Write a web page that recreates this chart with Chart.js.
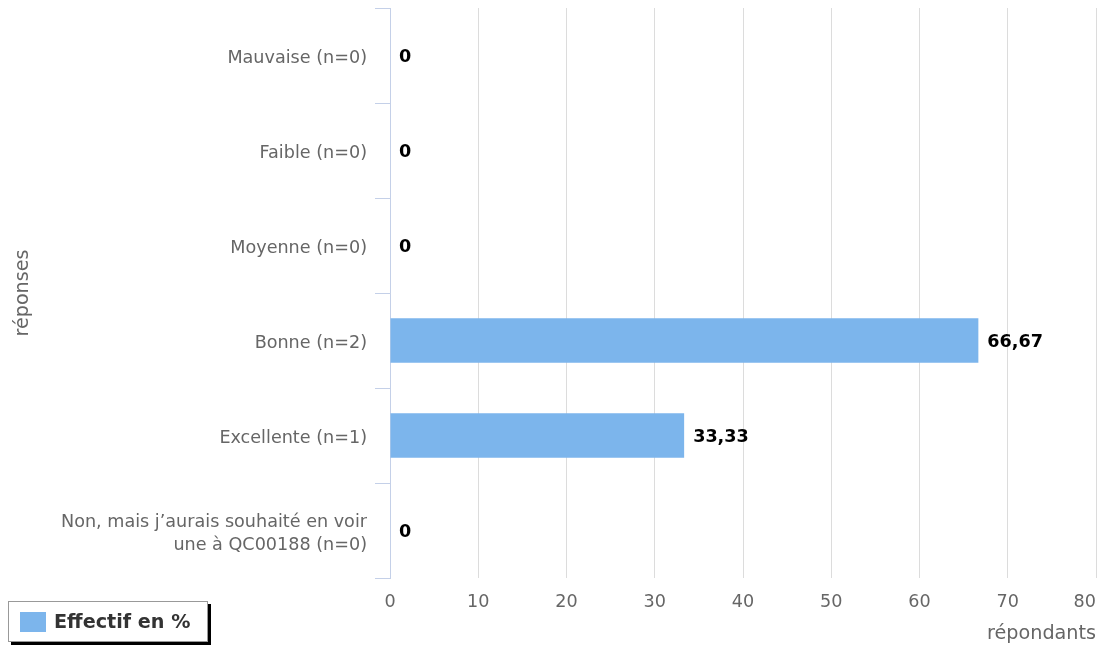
<!DOCTYPE html>
<html>
<head>
<meta charset="utf-8">
<script src="https://cdn.jsdelivr.net/npm/chart.js@4/dist/chart.umd.min.js"></script>
<style>
  body { margin: 0; background: #fff; }
  #wrap { position: relative; width: 1099px; height: 646px; }
  #legend {
    position: absolute; left: 8px; top: 601px; width: 198px; height: 39px;
    border: 1px solid #999; box-shadow: 3px 3px 0 #000; background: #fff;
    font-family: "DejaVu Sans", sans-serif; font-weight: bold; font-size: 19.2px; color: #333;
    display: flex; align-items: center;
  }
  #legend span.box { display: inline-block; width: 26px; height: 20px; background: #7cb5ec; margin: 0 8px 0 11px; }
</style>
</head>
<body>
<div id="wrap">
  <canvas id="barChart" width="1099" height="646"></canvas>
  <div id="legend"><span class="box"></span><span>Effectif en %</span></div>
</div>
<script>
const categories = [
    'Mauvaise (n=0)',
    'Faible (n=0)',
    'Moyenne (n=0)',
    'Bonne (n=2)',
    'Excellente (n=1)',
    ['Non, mais j\u2019aurais souhaité en voir', 'une à QC00188 (n=0)']
];
const percentValues = [0, 0, 0, 66.67, 33.33, 0];
const seriesName = 'Effectif en %';

const FONT = '"DejaVu Sans", sans-serif';

// étiquettes de valeur au bout des barres
const valueLabels = {
    id: 'valueLabels',
    afterDatasetsDraw(chart){
        const ctx = chart.ctx;
        const meta = chart.getDatasetMeta(0);
        ctx.save();
        ctx.font = 'bold 17.6px ' + FONT;
        ctx.fillStyle = '#000';
        ctx.textBaseline = 'middle';
        meta.data.forEach((bar, i) => {
            const txt = percentValues[i].toLocaleString('fr-FR', {maximumFractionDigits: 2});
            ctx.fillText(txt, bar.x + 9, bar.y + 2);
        });
        ctx.restore();
    }
};

// petits ajustements des libellés d'axes
const tickTweaks = {
    id: 'tickTweaks',
    beforeDraw(chart){
        const x = chart.scales.x;
        const xItems = x.getLabelItems(chart.chartArea);
        const last = xItems[xItems.length - 1];
        if(last){
            last.options.textAlign = 'right';
            last.options.translation[0] = x.right;
        }
        const yItems = chart.scales.y.getLabelItems(chart.chartArea);
        yItems.forEach(item => { item.options.translation[1] += 3; });
    }
};

const ct = document.getElementById('barChart').getContext('2d');
new Chart(ct, {
    type: 'bar',
    data: {
        labels: categories,
        datasets: [{
            label: seriesName,
            data: percentValues,
            backgroundColor: '#7cb5ec',
            borderWidth: 0,
            barPercentage: 0.47,
            categoryPercentage: 1
        }]
    },
    options: {
        indexAxis: 'y',
        responsive: false,
        animation: false,
        layout: { padding: { top: 8, right: 3, left: 0, bottom: 0 } },
        plugins: {
            legend: { display: false },
            tooltip: { enabled: false }
        },
        scales: {
            x: {
                min: 0,
                max: 80,
                ticks: { stepSize: 10, color: '#666', font: { family: FONT, size: 17.6 }, padding: 14 },
                grid: { color: '#dcdcdc', drawTicks: false, lineWidth: 1 },
                border: { display: false },
                title: {
                    display: true, text: 'répondants', align: 'end', color: '#666',
                    font: { family: FONT, size: 19.2 }, padding: { top: 2, bottom: 0 }
                },
                afterFit(scale){
                    scale.height = 68;
                    scale.paddingLeft = 0;
                    scale.paddingRight = 0;
                }
            },
            y: {
                ticks: { color: '#666', font: { family: FONT, size: 17.6, lineHeight: 1.3 }, padding: 8 },
                grid: { offset: true, drawOnChartArea: false, drawTicks: true, tickLength: 15, color: '#c4d0e8' },
                border: { display: true, color: '#c4d0e8', width: 1 },
                title: {
                    display: true, text: 'réponses', color: '#666',
                    font: { family: FONT, size: 19.2 }, padding: { top: 11, bottom: 0 }
                },
                afterFit(scale){
                    scale.width = 390;
                    scale.paddingTop = 0;
                    scale.paddingBottom = 0;
                }
            }
        }
    },
    plugins: [valueLabels, tickTweaks]
});
</script>
</body>
</html>
